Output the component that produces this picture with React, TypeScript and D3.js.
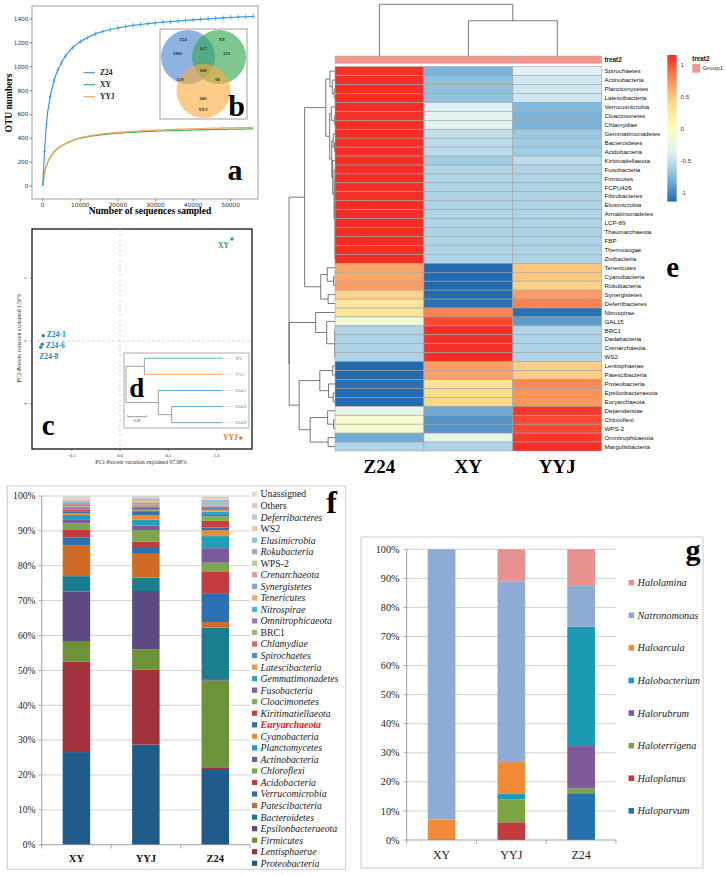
import React from "react";
import * as d3 from "d3";

const SERIF = "'Liberation Serif','Times New Roman',Times,serif";
const SANS = "'Liberation Sans',Arial,Helvetica,sans-serif";
const DJV = "'DejaVu Sans',sans-serif";

// ---------------- a: rarefaction curves ----------------
const rareDepth = [0, 500, 1000, 2000, 3000, 4000, 5000, 6000, 8000, 10000, 12000, 14000, 16000, 18000, 20000, 22000, 24000, 26000, 28000, 30000, 32000, 34000, 36000, 38000, 40000, 42000, 44000, 46000, 48000, 50000, 52000, 54000, 56000];
const rareZ24 = [0, 290, 520, 750, 880, 970, 1035, 1088, 1160, 1210, 1245, 1275, 1295, 1312, 1325, 1337, 1346, 1354, 1361, 1367, 1373, 1378, 1383, 1388, 1392, 1397, 1401, 1405, 1409, 1413, 1416, 1419, 1422];
const rareXY = [0, 110, 170, 240, 285, 315, 335, 352, 380, 400, 413, 423, 431, 437, 442, 447, 450, 454, 457, 460, 462, 464, 466, 468, 470, 471, 473, 474, 475, 476, 477, 478, 479];
const rareYYJ = [0, 110, 172, 243, 288, 318, 339, 356, 385, 405, 418, 428, 437, 443, 449, 454, 458, 462, 465, 468, 471, 473, 476, 478, 480, 482, 484, 485, 487, 488, 489, 490, 491];
const rareNames = ["Z24", "XY", "YYJ"];
const rareColors = ["#3b9bd8", "#3db455", "#f6a55e"];
const rareYTicks = [0, 200, 400, 600, 800, 1000, 1200, 1400];
const rareXTicks = [0, 10000, 20000, 30000, 40000, 50000];

// ---------------- b: venn ----------------
const vennSets = ["Z24", "XY", "YYJ"];
const vennUnique = [1902, 123, 186];
const vennPairs = [127, 159, 60]; // Z24∩XY, Z24∩YYJ, XY∩YYJ
const vennAll = 168;
const vennColors = ["#4a85cf", "#2fa54e", "#f9ab3e"];

// ---------------- c: PCoA ----------------
const pcoaNames = ["XY", "YYJ", "Z24-1", "Z24-6", "Z24-8"];
const pcoaPC1 = [1.16, 1.25, -0.795, -0.805, -0.82];
const pcoaPC2 = [1.62, -1.54, 0.085, -0.05, -0.1];
const pcoaXTicks = [-0.5, 0, 0.5, 1.0];
const pcoaYTicks = [-1, 0, 1];

// ---------------- d: cluster tree ----------------
const treeD = {
  name: "", len: 0, children: [
    { name: "", len: 0.087, children: [{ name: "XY", len: 0.371 }, { name: "YYJ", len: 0.371 }] },
    { name: "", len: 0.153, children: [
      { name: "Z24-1", len: 0.305 },
      { name: "", len: 0.063, children: [{ name: "Z24-6", len: 0.242 }, { name: "Z24-8", len: 0.242 }] },
    ] },
  ],
};

// ---------------- e: heatmap ----------------
const heatCols = ["Z24", "XY", "YYJ"];
const heatRows = ["Spirochaetes", "Actinobacteria", "Planctomycetes", "Latescibacteria", "Verrucomicrobia", "Cloacimonetes", "Chlamydiae", "Gemmatimonadetes", "Bacteroidetes", "Acidobacteria", "Kiritimatiellaeota", "Fusobacteria", "Firmicutes", "FCPU426", "Fibrobacteres", "Elusimicrobia", "Armatimonadetes", "LCP-89", "Thaumarchaeota", "FBP", "Thermotogae", "Zixibacteria", "Tenericutes", "Cyanobacteria", "Rokubacteria", "Synergistetes", "Deferribacteres", "Nitrospirae", "GAL15", "BRC1", "Dadabacteria", "Crenarchaeota", "WS2", "Lentisphaerae", "Patescibacteria", "Proteobacteria", "Epsilonbacteraeota", "Euryarchaeota", "Dependentiae", "Chloroflexi", "WPS-2", "Omnitrophicaeota", "Margulisbacteria"];
const heatZ24 = [1.14, 1.15, 1.15, 1.15, 1.15, 1.14, 1.14, 1.15, 1.15, 1.15, 1.15, 1.155, 1.155, 1.155, 1.155, 1.155, 1.155, 1.155, 1.155, 1.155, 1.155, 1.155, 0.65, 0.65, 0.7, 0.45, 0.3, 0.3, -0.15, -0.577, -0.577, -0.577, -0.577, -1.15, -1.15, -1.12, -1.14, -1.14, -0.3, -0.1, -0.1, -0.82, -0.577];
const heatXY = [-0.78, -0.7, -0.7, -0.7, -0.4, -0.36, -0.36, -0.5, -0.52, -0.52, -0.63, -0.577, -0.577, -0.577, -0.577, -0.577, -0.577, -0.577, -0.577, -0.577, -0.577, -0.577, -1.15, -1.15, -1.15, -1.15, -1.12, 0.82, 1.05, 1.155, 1.155, 1.155, 1.155, 0.68, 0.68, 0.33, 0.4, 0.42, -0.82, -0.95, -0.95, -0.3, -0.577];
const heatYYJ = [-0.36, -0.45, -0.45, -0.45, -0.75, -0.78, -0.78, -0.65, -0.63, -0.63, -0.52, -0.577, -0.577, -0.577, -0.577, -0.577, -0.577, -0.577, -0.577, -0.577, -0.577, -0.577, 0.5, 0.5, 0.45, 0.7, 0.82, -1.12, -0.9, -0.577, -0.577, -0.577, -0.577, 0.47, 0.47, 0.79, 0.74, 0.72, 1.12, 1.05, 1.05, 1.12, 1.155];
const heatLegendTicks = [1, 0.5, 0, -0.5, -1];
const colTree = { h: 10, c: ["Z24", { h: 6.83, c: ["XY", "YYJ"] }] };
const rowTree = {
  h: 10, c: [
    { h: 6.6, c: [
      { h: 2.0, c: [
        { h: 1.1, c: ["Spirochaetes", { h: 0.6, c: ["Actinobacteria", { h: 0.2, c: ["Planctomycetes", "Latescibacteria"] }] }] },
        { h: 1.15, c: [
          { h: 0.8, c: ["Verrucomicrobia", { h: 0.15, c: ["Cloacimonetes", "Chlamydiae"] }] },
          { h: 0.7, c: [
            { h: 0.4, c: ["Gemmatimonadetes", { h: 0.1, c: ["Bacteroidetes", "Acidobacteria"] }] },
            { h: 0.5, c: ["Kiritimatiellaeota", { h: 0.2, c: ["Fusobacteria", { h: 0.04, c: ["Firmicutes", "FCPU426", "Fibrobacteres", "Elusimicrobia", "Armatimonadetes", "LCP-89", "Thaumarchaeota", "FBP", "Thermotogae", "Zixibacteria"] }] }] },
          ] },
        ] },
      ] },
      { h: 3.1, c: [
        { h: 1.7, c: ["Tenericutes", { h: 0.3, c: ["Cyanobacteria", "Rokubacteria"] }] },
        { h: 1.5, c: ["Synergistetes", "Deferribacteres"] },
      ] },
    ] },
    { h: 9.95, c: [
      { h: 4.2, c: ["Nitrospirae", { h: 1.8, c: ["GAL15", { h: 0.05, c: ["BRC1", "Dadabacteria", "Crenarchaeota", "WS2"] }] }] },
      { h: 7.8, c: [
        { h: 3.3, c: [
          { h: 0.5, c: ["Lentisphaerae", "Patescibacteria"] },
          { h: 1.4, c: ["Proteobacteria", { h: 0.4, c: ["Epsilonbacteraeota", "Euryarchaeota"] }] },
        ] },
        { h: 5.4, c: [
          { h: 1.6, c: ["Dependentiae", { h: 0.3, c: ["Chloroflexi", "WPS-2"] }] },
          { h: 1.5, c: ["Omnitrophicaeota", "Margulisbacteria"] },
        ] },
      ] },
    ] },
  ],
};

// ---------------- f: phylum stacked bars ----------------
const fCats = ["XY", "YYJ", "Z24"];
const fPhyla = ["Proteobacteria", "Lentisphaerae", "Firmicutes", "Epsilonbacteraeota", "Bacteroidetes", "Patescibacteria", "Verrucomicrobia", "Acidobacteria", "Chloroflexi", "Actinobacteria", "Planctomycetes", "Cyanobacteria", "Euryarchaeota", "Kiritimatiellaeota", "Cloacimonetes", "Fusobacteria", "Gemmatimonadetes", "Latescibacteria", "Spirochaetes", "Chlamydiae", "BRC1", "Omnitrophicaeota", "Nitrospirae", "Tenericutes", "Synergistetes", "Crenarchaeota", "WPS-2", "Rokubacteria", "Elusimicrobia", "WS2", "Deferribacteres", "Others", "Unassigned"];
const fXY = [26.7, 26.0, 6.0, 14.3, 4.4, 8.8, 2.4, 2.1, 1.9, 1.0, 1.4, 0.6, 0.5, 0.4, 0.3, 0.4, 0.3, 0.2, 0.3, 0.2, 0.3, 0.1, 0.2, 0.2, 0.1, 0.2, 0.05, 0.05, 0.1, 0.2, 0.1, 0.5, 0.2];
const fYYJ = [29.1, 21.7, 6.0, 16.9, 3.9, 6.9, 1.7, 1.9, 3.3, 1.3, 1.7, 1.4, 0.9, 0.3, 0.3, 0.5, 0.3, 0.2, 0.2, 0.3, 0.1, 0.3, 0.1, 0.2, 0.2, 0.1, 0.3, 0.3, 0.05, 0.05, 0.2, 0.5, 0.1];
const fZ24 = [21.9, 0.5, 25.1, 0.4, 14.9, 1.6, 8.2, 6.5, 2.5, 4.2, 3.5, 1.7, 0.8, 1.9, 1.3, 0.4, 1.0, 0.4, 0.6, 0.4, 0.1, 0.2, 0.1, 0.2, 0.2, 0.3, 0.2, 0.4, 0.3, 0.1, 0.2, 0.6, 0.2];
const fColors = ["#1f5c8c", "#a3333a", "#6d9338", "#5e4a82", "#1a7e8f", "#cf6b25", "#2b70b0", "#c33b3d", "#7ba84a", "#7a599c", "#219fb7", "#ee8a30", "#2f6fae", "#c9413f", "#86ad4f", "#7d5ca0", "#27a8c0", "#f29540", "#5b86c4", "#d96563", "#98bb6a", "#9480b5", "#4bb6cc", "#f5a868", "#8aa5d3", "#e09a98", "#b5cd94", "#ada0c6", "#86c8d8", "#f8c29c", "#b8c8e3", "#ecc1c0", "#d3e3c5"];
const fUpright = ["Unassigned", "Others", "WS2", "WPS-2", "BRC1"];
const fHighlight = "Euryarchaeota";
const pctTicks = [0, 0.1, 0.2, 0.3, 0.4, 0.5, 0.6, 0.7, 0.8, 0.9, 1.0];

// ---------------- g: genus stacked bars ----------------
const gCats = ["XY", "YYJ", "Z24"];
const gGenera = ["Haloparvum", "Haloplanus", "Haloterrigena", "Halorubrum", "Halobacterium", "Haloarcula", "Natronomonas", "Halolamina"];
const gXY = [0, 0, 0, 0, 0, 7.0, 93.0, 0];
const gYYJ = [0, 6.1, 7.9, 0, 1.8, 11.0, 62.2, 11.0];
const gZ24 = [16.1, 0, 1.6, 14.6, 41.1, 0, 14.0, 12.6];
const gColors = ["#2471ae", "#c13b3d", "#7ba443", "#7e5a9b", "#1b9ab3", "#f18a36", "#8eabd4", "#e8928f"];

// ---------------- helpers ----------------
function treeSegs(node: any, leafPos: (n: string) => number, hPos: (h: number) => number, out: number[][]): { p: number; h: number } {
  if (typeof node === "string") return { p: leafPos(node), h: 0 };
  const kids = node.c.map((k: any) => treeSegs(k, leafPos, hPos, out));
  const ps = kids.map((k: any) => k.p);
  const lo = Math.min(...ps), hi = Math.max(...ps);
  out.push([hPos(node.h), lo, hPos(node.h), hi]);
  for (const k of kids) out.push([hPos(node.h), k.p, hPos(k.h), k.p]);
  return { p: (lo + hi) / 2, h: node.h };
}

function PanelLetter({ x, y, t, size = 29 }: { x: number; y: number; t: string; size?: number }) {
  return <text x={x} y={y} textAnchor="middle" fontFamily={SERIF} fontWeight="bold" fontSize={size} fill="#000">{t}</text>;
}

// ---------------- Panel a + b ----------------
function PanelA() {
  const x = d3.scaleLinear().domain([0, 50000]).range([42.7, 230.7]);
  const y = d3.scaleLinear().domain([0, 1400]).range([186, 19]);
  const series = [rareZ24, rareXY, rareYYJ];
  const line = d3.line<number>().x((_, i) => x(rareDepth[i])).y((d) => y(d)).curve(d3.curveMonotoneX);
  const order = [1, 2, 0];
  // venn geometry
  const cx = [188, 219, 203.5], cy = [57, 57, 91], r = 27;
  return (
    <g>
      <rect x={32} y={6} width={226} height={193} fill="#fff" stroke="#a0a0a0" strokeWidth={1} />
      {rareYTicks.map((t) => (
        <g key={t}>
          <line x1={32} x2={29.5} y1={y(t)} y2={y(t)} stroke="#444" strokeWidth={0.6} />
          <text x={28.5} y={y(t)} dy="0.35em" textAnchor="end" fontSize={5.8} fontFamily={DJV} fill="#333">{t}</text>
        </g>
      ))}
      {rareXTicks.map((t) => (
        <g key={t}>
          <line x1={x(t)} x2={x(t)} y1={199} y2={201.5} stroke="#444" strokeWidth={0.6} />
          <text x={x(t)} y={206.5} textAnchor="middle" fontSize={5.8} fontFamily={DJV} fill="#333">{t}</text>
        </g>
      ))}
      <text transform="translate(12,103) rotate(-90)" textAnchor="middle" fontWeight="bold" fontSize={9.5} fontFamily={SERIF}>OTU numbers</text>
      <text x={150} y={214} textAnchor="middle" fontWeight="bold" fontSize={9.5} fontFamily={SERIF}>Number of sequences sampled</text>
      {order.map((si) => (
        <path key={si} d={line(series[si]) || ""} fill="none" stroke={rareColors[si]} strokeWidth={1.2} />
      ))}
      {rareDepth.map((dd, i) => i === 0 ? null : (
        <g key={"m" + i} stroke={rareColors[0]} strokeWidth={0.7}>
          <line x1={x(dd)} x2={x(dd)} y1={y(rareZ24[i]) - 2.5} y2={y(rareZ24[i]) + 2.5} />
          <line x1={x(dd) - 1.5} x2={x(dd) + 1.5} y1={y(rareZ24[i])} y2={y(rareZ24[i])} />
        </g>
      ))}
      {rareNames.map((n, i) => (
        <g key={n}>
          <line x1={83.5} x2={95} y1={72.7 + i * 12} y2={72.7 + i * 12} stroke={rareColors[i]} strokeWidth={1.2} />
          <text x={100} y={72.7 + i * 12} dy="0.35em" fontSize={7.5} fontWeight="bold" fontFamily={SERIF} fill="#222">{n}</text>
        </g>
      ))}
      {/* b: venn */}
      <rect x={160} y={29} width={87} height={90} fill="#fff" stroke="#888" strokeWidth={0.8} />
      {vennSets.map((s, i) => (
        <circle key={s} cx={cx[i]} cy={cy[i]} r={r} fill={vennColors[i]} fillOpacity={0.62} />
      ))}
      <g fontFamily={SERIF} fontWeight="bold" fontSize={4.6} textAnchor="middle" fill="#222">
        <text x={183} y={40.5}>{vennSets[0]}</text>
        <text x={222} y={40.5}>{vennSets[1]}</text>
        <text x={203} y={111}>{vennSets[2]}</text>
        <text x={177.7} y={55}>{vennUnique[0]}</text>
        <text x={226.5} y={54.5}>{vennUnique[1]}</text>
        <text x={203} y={99.5}>{vennUnique[2]}</text>
        <text x={203} y={49.5}>{vennPairs[0]}</text>
        <text x={180} y={81}>{vennPairs[1]}</text>
        <text x={217.5} y={81}>{vennPairs[2]}</text>
        <text x={203} y={72}>{vennAll}</text>
      </g>
      <PanelLetter x={236.5} y={115.5} t="b" size={30} />
      <PanelLetter x={235} y={180} t="a" size={30} />
    </g>
  );
}

// ---------------- Panel c + d ----------------
function PanelC() {
  const x = d3.scaleLinear().domain([0, 1]).range([120, 216.6]);
  const y = d3.scaleLinear().domain([0, 1]).range([341, 278]);
  const colorOf = (n: string) => (n === "XY" ? "#23a447" : n === "YYJ" ? "#f07a1a" : "#1a7fc0");
  const L = 32, T = 229, R = 252, B = 449;
  // tree d
  const root: any = d3.hierarchy(treeD as any, (d: any) => d.children);
  root.eachBefore((n: any) => { n.dist = (n.parent ? n.parent.dist : 0) + (n.data.len || 0); });
  const leaves = root.leaves();
  const ly = d3.scalePoint().domain(leaves.map((l: any) => l.data.name)).range([358.3, 422.7]);
  root.eachAfter((n: any) => {
    n.yy = n.children ? (n.children[0].yy + n.children[n.children.length - 1].yy) / 2 : (ly(n.data.name) as number);
  });
  const dx = d3.scaleLinear().domain([0, 0.09]).range([126, 145]);
  const nodes = root.descendants();
  const labelDX: Record<string, number> = { "XY": -3, "YYJ": -3, "Z24-1": 3.5, "Z24-6": 3.5, "Z24-8": -4 };
  return (
    <g>
      <rect x={L} y={T} width={R - L} height={B - T} fill="#fff" stroke="#111" strokeWidth={1.3} />
      <line x1={x(0)} x2={x(0)} y1={T} y2={B} stroke="#c4c4c4" strokeWidth={0.7} strokeDasharray="3,2" />
      <line x1={L} x2={R} y1={y(0)} y2={y(0)} stroke="#c4c4c4" strokeWidth={0.7} strokeDasharray="3,2" />
      {pcoaXTicks.map((t) => (
        <g key={t}>
          <line x1={x(t)} x2={x(t)} y1={B} y2={B + 2} stroke="#333" strokeWidth={0.5} />
          <text x={x(t)} y={456.5} textAnchor="middle" fontSize={4.6} fontFamily={SERIF} fill="#333">{d3.format(".1f")(t)}</text>
        </g>
      ))}
      {pcoaYTicks.map((t) => (
        <g key={t}>
          <line x1={L} x2={L - 2} y1={y(t)} y2={y(t)} stroke="#333" strokeWidth={0.5} />
          <text transform={`translate(27,${y(t)}) rotate(-90)`} textAnchor="middle" fontSize={4.6} fontFamily={SERIF} fill="#333">{t}</text>
        </g>
      ))}
      <text x={141} y={463.5} textAnchor="middle" fontSize={5.6} fontFamily={SERIF} fill="#333">PC1-Percent variation explained 97.08%</text>
      <text transform="translate(21,338) rotate(-90)" textAnchor="middle" fontSize={5.6} fontFamily={SERIF} fill="#333">PC2-Percent variation explained 1.50%</text>
      {pcoaNames.map((n, i) => {
        const px = x(pcoaPC1[i]), py = y(pcoaPC2[i]);
        const ldx = labelDX[n];
        const lpy = n === "Z24-8" ? py + 9.5 : n === "XY" ? py + 6.5 : n === "Z24-6" ? py + 1.5 : py - 1;
        return (
          <g key={n}>
            <circle cx={px} cy={py} r={1.7} fill={colorOf(n)} />
            <text x={n === "Z24-8" ? 39.3 : px + ldx} y={lpy} dy="0.35em" textAnchor={ldx < 0 && n !== "Z24-8" ? "end" : "start"} fontSize={7.6} fontWeight="bold" fontFamily={SERIF} fill={colorOf(n)}>{n}</text>
          </g>
        );
      })}
      {/* d inset */}
      <rect x={124} y={353} width={125} height={75} fill="#fff" stroke="#8a8a8a" strokeWidth={0.7} />
      {nodes.map((n: any, i: number) => {
        const segs: any[] = [];
        if (n.parent) {
          const leaf = !n.children;
          segs.push(<line key={"h" + i} x1={dx(n.parent.dist)} x2={dx(n.dist)} y1={n.yy} y2={n.yy} stroke={leaf ? colorOf(n.data.name) : "#777"} strokeWidth={0.7} />);
        }
        if (n.children) {
          segs.push(<line key={"v" + i} x1={dx(n.dist)} x2={dx(n.dist)} y1={n.children[0].yy} y2={n.children[n.children.length - 1].yy} stroke="#777" strokeWidth={0.7} />);
        } else {
          segs.push(<line key={"e" + i} x1={dx(n.dist)} x2={233} y1={n.yy} y2={n.yy} stroke="#d8d8d8" strokeWidth={0.7} />);
          segs.push(<text key={"t" + i} x={235.5} y={n.yy} dy="0.35em" fontSize={4.4} fontFamily={SERIF} fill={colorOf(n.data.name)}>{n.data.name}</text>);
        }
        return <g key={i}>{segs}</g>;
      })}
      <line x1={dx(0) + 1.7} x2={dx(0.09) + 1.7} y1={416.7} y2={416.7} stroke="#555" strokeWidth={0.6} />
      <line x1={dx(0) + 1.7} x2={dx(0) + 1.7} y1={415.2} y2={416.7} stroke="#555" strokeWidth={0.6} />
      <line x1={dx(0.09) + 1.7} x2={dx(0.09) + 1.7} y1={415.2} y2={416.7} stroke="#555" strokeWidth={0.6} />
      <text x={(dx(0) + dx(0.09)) / 2 + 1.7} y={422} textAnchor="middle" fontSize={3.8} fontFamily={SERIF} fill="#333">0.09</text>
      <PanelLetter x={136.7} y={396.5} t="d" size={27} />
      <PanelLetter x={48.3} y={435} t="c" size={29} />
    </g>
  );
}

// ---------------- Panel e ----------------
function PanelE() {
  const xb = d3.scaleBand().domain(heatCols).range([335, 601.7]);
  const yb = d3.scaleBand().domain(heatRows).range([66.7, 451]);
  const color = d3.scaleLinear<string>()
    .domain([-1.155, -0.77, -0.385, 0, 0.385, 0.77, 1.155])
    .range(["#2369ad", "#7cb6d9", "#dff1f6", "#fefdbf", "#fedf8f", "#fb8d58", "#f52e26"]);
  const cols = [heatZ24, heatXY, heatYYJ];
  const rowSegs: number[][] = [];
  treeSegs(rowTree, (n) => (yb(n) as number) + yb.bandwidth() / 2, d3.scaleLinear().domain([0, 10]).range([335, 289]), rowSegs);
  const colSegs: number[][] = [];
  treeSegs(colTree, (n) => (xb(n) as number) + xb.bandwidth() / 2, d3.scaleLinear().domain([0, 10]).range([56, 4.3]), colSegs);
  const cb = d3.scaleLinear().domain([-1, 1]).range([192.7, 65]);
  const cbTop = 1.157, cbBot = -1.14;
  const stops = d3.range(0, 21).map((i) => cbBot + ((cbTop - cbBot) * i) / 20);
  return (
    <g>
      <defs>
        <linearGradient id="hmgrad" x1="0" y1="1" x2="0" y2="0">
          {stops.map((v, i) => <stop key={i} offset={i / 20} stopColor={color(Math.max(-1.155, Math.min(1.155, v)))} />)}
        </linearGradient>
      </defs>
      {colSegs.map((s, i) => <line key={"c" + i} x1={s[1]} y1={s[0]} x2={s[3]} y2={s[2]} stroke="#555" strokeWidth={0.8} />)}
      {rowSegs.map((s, i) => <line key={"r" + i} x1={s[0]} y1={s[1]} x2={s[2]} y2={s[3]} stroke="#555" strokeWidth={0.8} />)}
      {heatCols.map((c) => (
        <rect key={c} x={xb(c)} y={56} width={xb.bandwidth()} height={7.3} fill="#f4968e" stroke="#b0b0b0" strokeWidth={0.5} />
      ))}
      <text x={604.5} y={59.7} dy="0.35em" fontFamily={SANS} fontWeight="bold" fontSize={6.3} fill="#111">treat2</text>
      {heatRows.map((r, ri) => (
        <g key={r}>
          {heatCols.map((c, ci) => (
            <rect key={c} x={xb(c)} y={yb(r)} width={xb.bandwidth()} height={yb.bandwidth()} fill={color(cols[ci][ri])} stroke="#a3a3a3" strokeWidth={0.6} />
          ))}
          <text x={604.5} y={(yb(r) as number) + yb.bandwidth() / 2} dy="0.35em" fontFamily={SANS} fontSize={6.2} fill="#111">{r}</text>
        </g>
      ))}
      {heatCols.map((c) => (
        <text key={c} x={(xb(c) as number) + xb.bandwidth() / 2} y={472.5} textAnchor="middle" fontFamily={SERIF} fontWeight="bold" fontSize={19}>{c}</text>
      ))}
      <rect x={667.3} y={cb(cbTop)} width={9.4} height={cb(cbBot) - cb(cbTop)} fill="url(#hmgrad)" />
      {heatLegendTicks.map((t) => (
        <text key={t} x={680.5} y={cb(t)} dy="0.35em" fontFamily={SANS} fontSize={6.2} fill="#444">{t}</text>
      ))}
      <text x={692.3} y={58.5} dy="0.35em" fontFamily={SANS} fontWeight="bold" fontSize={6.3} fill="#111">treat2</text>
      <rect x={692.3} y={64} width={7.7} height={8.7} fill="#f4968e" />
      <text x={702.5} y={68.3} dy="0.35em" fontFamily={SANS} fontSize={6.2} fill="#333">Group1</text>
      <PanelLetter x={672.7} y={276.5} t="e" size={29} />
    </g>
  );
}

// ---------------- stacked bar panel helper ----------------
function stackData(cats: string[], keys: string[], vals: number[][]) {
  const rows = cats.map((c, ci) => {
    const o: any = { cat: c };
    keys.forEach((k, ki) => { o[k] = vals[ci][ki]; });
    return o;
  });
  return d3.stack<any>().keys(keys).offset(d3.stackOffsetExpand)(rows);
}

// ---------------- Panel f ----------------
function PanelF() {
  const xb = d3.scaleBand().domain(fCats).range([41.7, 250]);
  const y = d3.scaleLinear().domain([0, 1]).range([844.7, 496]);
  const barW = 27.5;
  const st = stackData(fCats, fPhyla, [fXY, fYYJ, fZ24]);
  const legend = fPhyla.slice().reverse();
  return (
    <g>
      <rect x={7.3} y={486} width={338.4} height={383.3} fill="#fff" stroke="#c6c6c6" strokeWidth={0.9} />
      {pctTicks.map((t) => (
        <g key={t}>
          {t > 0 && <line x1={41.7} x2={250} y1={y(t)} y2={y(t)} stroke="#bdbdbd" strokeWidth={0.7} />}
          <line x1={38.5} x2={41.7} y1={y(t)} y2={y(t)} stroke="#888" strokeWidth={0.7} />
          <text x={35.5} y={y(t)} dy="0.35em" textAnchor="end" fontFamily={SERIF} fontSize={9.6} fill="#222">{d3.format(".0%")(t)}</text>
        </g>
      ))}
      <line x1={41.7} x2={41.7} y1={496} y2={844.7} stroke="#888" strokeWidth={0.8} />
      {st.map((layer, li) => (
        <g key={layer.key} fill={fColors[li]}>
          {layer.map((seg: any, ci: number) => (
            <rect key={ci} x={(xb(fCats[ci]) as number) + (xb.bandwidth() - barW) / 2} y={y(seg[1])} width={barW} height={Math.max(0, y(seg[0]) - y(seg[1]))} />
          ))}
        </g>
      ))}
      <line x1={41.7} x2={250} y1={844.7} y2={844.7} stroke="#888" strokeWidth={0.8} />
      {[...fCats.map((c) => xb(c) as number), 250].map((bx, i) => (
        <line key={i} x1={bx} x2={bx} y1={844.7} y2={848.5} stroke="#888" strokeWidth={0.7} />
      ))}
      {fCats.map((c) => (
        <text key={c} x={(xb(c) as number) + xb.bandwidth() / 2} y={861.5} textAnchor="middle" fontFamily={SERIF} fontWeight="bold" fontSize={10.5} fill="#111">{c}</text>
      ))}
      {legend.map((p, i) => {
        const yy = 494 + i * 11.54;
        const ci = fPhyla.indexOf(p);
        const hl = p === fHighlight;
        return (
          <g key={p}>
            <rect x={252} y={yy - 2.6} width={5.2} height={5.2} fill={fColors[ci]} />
            <text x={260.5} y={yy} dy="0.35em" fontFamily={SERIF} fontSize={9.8} fontStyle={fUpright.includes(p) ? "normal" : "italic"} fontWeight={hl ? "bold" : "normal"} fill={hl ? "#e8141c" : "#222"}>{p}</text>
          </g>
        );
      })}
      <PanelLetter x={331.7} y={513} t="f" size={32} />
    </g>
  );
}

// ---------------- Panel g ----------------
function PanelG() {
  const xb = d3.scaleBand().domain(gCats).range([406.7, 616]);
  const y = d3.scaleLinear().domain([0, 1]).range([840, 549.3]);
  const barW = 27.7;
  const st = stackData(gCats, gGenera, [gXY, gYYJ, gZ24]);
  const legend = gGenera.slice().reverse();
  return (
    <g>
      <rect x={361} y={537} width={342} height={331} fill="#fff" stroke="#c6c6c6" strokeWidth={0.9} />
      {pctTicks.map((t) => (
        <g key={t}>
          {t > 0 && <line x1={406.7} x2={616} y1={y(t)} y2={y(t)} stroke="#bdbdbd" strokeWidth={0.7} />}
          <line x1={403.5} x2={406.7} y1={y(t)} y2={y(t)} stroke="#888" strokeWidth={0.7} />
          <text x={399.5} y={y(t)} dy="0.35em" textAnchor="end" fontFamily={SERIF} fontSize={10.2} fill="#222">{d3.format(".0%")(t)}</text>
        </g>
      ))}
      <line x1={406.7} x2={406.7} y1={549.3} y2={840} stroke="#888" strokeWidth={0.8} />
      {st.map((layer, li) => (
        <g key={layer.key} fill={gColors[li]}>
          {layer.map((seg: any, ci: number) => (
            <rect key={ci} x={(xb(gCats[ci]) as number) + (xb.bandwidth() - barW) / 2} y={y(seg[1])} width={barW} height={Math.max(0, y(seg[0]) - y(seg[1]))} />
          ))}
        </g>
      ))}
      <line x1={406.7} x2={616} y1={840} y2={840} stroke="#888" strokeWidth={0.8} />
      {[...gCats.map((c) => xb(c) as number), 616].map((bx, i) => (
        <line key={i} x1={bx} x2={bx} y1={840} y2={844} stroke="#888" strokeWidth={0.7} />
      ))}
      {gCats.map((c) => (
        <text key={c} x={(xb(c) as number) + xb.bandwidth() / 2} y={859} textAnchor="middle" fontFamily={SERIF} fontSize={12} fill="#222">{c}</text>
      ))}
      {legend.map((g, i) => {
        const yy = 582.7 + i * 32.59;
        const ci = gGenera.indexOf(g);
        return (
          <g key={g}>
            <rect x={628.5} y={yy - 2.8} width={5.6} height={5.6} fill={gColors[ci]} />
            <text x={637.5} y={yy} dy="0.35em" fontFamily={SERIF} fontSize={10.3} fontStyle="italic" fill="#222">{g}</text>
          </g>
        );
      })}
      <PanelLetter x={693} y={560} t="g" size={30} />
    </g>
  );
}

export default function App() {
  return (
    <svg width={726} height={875} viewBox="0 0 726 875" style={{ position: "absolute", left: 0, top: 0, background: "#fff" }} fontFamily={SERIF}>
      <rect width={726} height={875} fill="#fff" />
      <PanelA />
      <PanelC />
      <PanelE />
      <PanelF />
      <PanelG />
    </svg>
  );
}
